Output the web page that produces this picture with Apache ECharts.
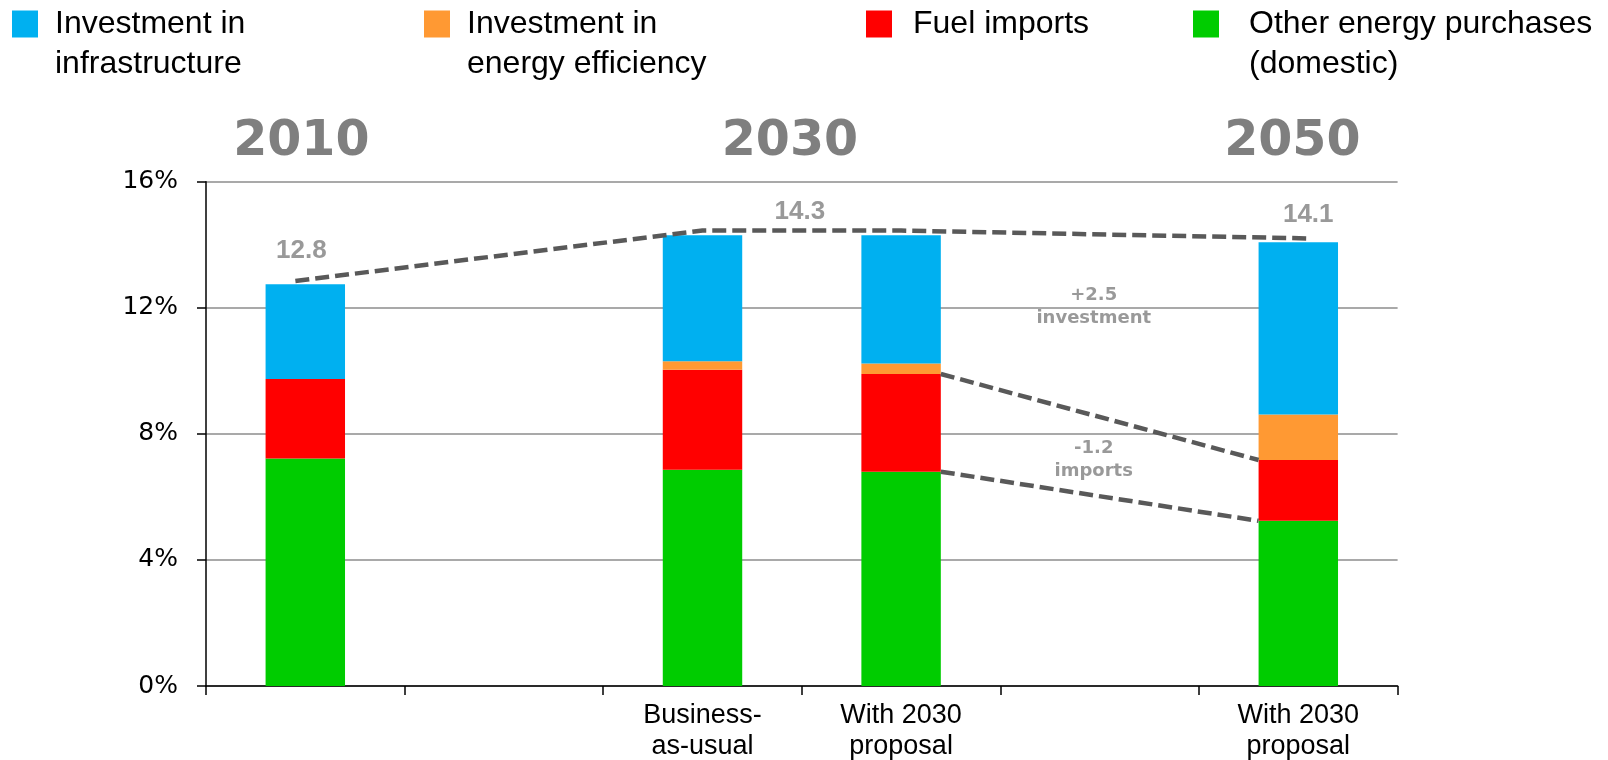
<!DOCTYPE html>
<html><head><meta charset="utf-8">
<script src="https://cdn.jsdelivr.net/npm/echarts@6/dist/echarts.min.js"></script>
<style>html,body{margin:0;padding:0;background:#fff}#c{width:1608px;height:760px}</style>
</head><body><div id="c"></div>
<script>
// ---- data ----
const categories = ['', '', 'Business-\nas-usual', 'With 2030\nproposal', '', 'With 2030\nproposal'];
const nameInfra = 'Investment in\ninfrastructure';
const nameEff = 'Investment in\nenergy efficiency';
const nameFuel = 'Fuel imports';
const nameOther = 'Other energy purchases\n(domestic)';
const otherDomestic = [7.22, null, 6.86, 6.80, null, 5.24];
const fuelImports   = [2.52, null, 3.17, 3.10, null, 1.93];
const efficiency    = [0,    null, 0.27, 0.33, null, 1.44];
const infrastructure= [3.01, null, 4.00, 4.07, null, 5.47];
const yTickValues = [0, 4, 8, 12, 16];
const totalLineX = [0.45, 2.5, 3.5, 5.55];
const totalLineY = [12.85, 14.45, 14.45, 14.2];
const totalLabels = ['12.8', '14.3', '14.1'];
const totalLabelX = [0.48, 2.99, 5.55];
const totalLabelY = [13.8, 15.03, 14.94];
const deltaLabels = ['+2.5\ninvestment', '-1.2\nimports'];
const deltaLabelX = [4.47, 4.47];
const deltaLabelY = [12.02, 7.18];
const yearHeadings = ['2010', '2030', '2050'];
const yearHeadingX = [0.48, 2.94, 5.47];

// ---- chart ----
const chart = echarts.init(document.getElementById('c'), null, {renderer: 'canvas'});
const BAR_FRAC = 0.4;
const iA = 3, iB = 5; // with-2030 and 2050 bars
const cum = (i, n) => [otherDomestic, fuelImports, efficiency, infrastructure].slice(0, n).reduce((s, a) => s + (a[i] || 0), 0);

const legendFont = '"Liberation Sans", Arial, sans-serif';
function mkLegend(name, left, twoLine, gap) {
  return {
    data: [name], left: left, top: twoLine ? -36 : 4, padding: 0,
    icon: 'rect', itemWidth: 26, itemHeight: 27, selectedMode: false,
    formatter: n => twoLine ? ' \n' + n : n,
    textStyle: {fontFamily: legendFont, fontSize: 32, lineHeight: 40, color: '#000',
      padding: [0, 0, 0, gap]}
  };
}
const dashStyle = {color: '#595959', width: 4.5, type: [14, 6]};
const option = {
  animation: false,
  backgroundColor: '#fff',
  legend: [
    mkLegend(nameInfra, 12, true, 12),
    mkLegend(nameEff, 424, true, 12),
    mkLegend(nameFuel, 866, false, 16),
    mkLegend(nameOther, 1193, true, 25)
  ],
  grid: {left: 206, right: 210.4, top: 181.7, bottom: 74, outerBoundsMode: 'none', containLabel: false},
  xAxis: [{
    type: 'category', data: categories, boundaryGap: true,
    axisLine: {lineStyle: {color: '#000', width: 1.5}},
    axisTick: {show: true, interval: 0, length: 9, lineStyle: {color: '#000', width: 1.5}},
    axisLabel: {interval: 0, margin: 14, fontFamily: legendFont, fontSize: 27, lineHeight: 31, color: '#000'},
    splitLine: {show: false}
  }, {
    type: 'value', min: 0, max: 6, show: false
  }],
  yAxis: {
    type: 'value', min: yTickValues[0], max: yTickValues[yTickValues.length - 1], interval: 4,
    axisLine: {show: true, lineStyle: {color: '#000', width: 1.5}},
    axisTick: {show: true, length: 9, lineStyle: {color: '#000', width: 1.5}},
    axisLabel: {margin: 28, fontFamily: '"DejaVu Sans", Verdana, sans-serif', fontSize: 25, color: '#000',
      formatter: v => v + '%'},
    splitLine: {show: true, lineStyle: {color: '#8c8c8c', width: 1.5}}
  },
  series: [
    {name: nameOther, type: 'bar', stack: 't', data: otherDomestic, barWidth: (BAR_FRAC * 100) + '%', itemStyle: {color: '#00CC00'}},
    {name: nameFuel, type: 'bar', stack: 't', data: fuelImports, itemStyle: {color: '#FF0000'}},
    {name: nameEff, type: 'bar', stack: 't', data: efficiency, itemStyle: {color: '#FF9933'}},
    {name: nameInfra, type: 'bar', stack: 't', data: infrastructure, itemStyle: {color: '#00B0F0'}},
    {type: 'line', xAxisIndex: 1, data: totalLineX.map((x, i) => [x, totalLineY[i]]),
      symbol: 'none', lineStyle: dashStyle, silent: true, z: 5},
    {type: 'line', xAxisIndex: 1,
      data: [[iA + 0.5 + BAR_FRAC / 2, cum(iA, 2)], [iB + 0.5 - BAR_FRAC / 2, cum(iB, 2)]],
      symbol: 'none', lineStyle: dashStyle, silent: true, z: 5},
    {type: 'line', xAxisIndex: 1,
      data: [[iA + 0.5 + BAR_FRAC / 2, cum(iA, 1)], [iB + 0.5 - BAR_FRAC / 2, cum(iB, 1)]],
      symbol: 'none', lineStyle: dashStyle, silent: true, z: 5},
    {type: 'scatter', xAxisIndex: 1, silent: true, symbolSize: 0.1, itemStyle: {color: 'rgba(0,0,0,0)'},
      data: totalLabelX.map((x, i) => [x, totalLabelY[i]]),
      label: {show: true, position: 'inside', formatter: p => totalLabels[p.dataIndex],
        fontFamily: legendFont, fontWeight: 'bold', fontSize: 26, color: '#7f7f7f'}},
    {type: 'scatter', xAxisIndex: 1, silent: true, symbolSize: 0.1, itemStyle: {color: 'rgba(0,0,0,0)'},
      data: deltaLabelX.map((x, i) => [x, deltaLabelY[i]]),
      label: {show: true, position: 'inside', formatter: p => deltaLabels[p.dataIndex], align: 'center',
        fontFamily: '"DejaVu Sans", Verdana, sans-serif', fontWeight: 'bold', fontSize: 18, lineHeight: 23, color: '#7f7f7f'}}
  ]
};
chart.setOption(option);
const headingY = 142;
chart.setOption({
  graphic: yearHeadings.map((t, i) => ({
    type: 'text', x: chart.convertToPixel({xAxisIndex: 1}, yearHeadingX[i]), y: headingY, silent: true,
    style: {text: t, align: 'center', verticalAlign: 'middle', fill: '#7f7f7f',
      fontFamily: '"DejaVu Sans", Verdana, sans-serif', fontWeight: 'bold', fontSize: 49}
  }))
});
</script></body></html>
